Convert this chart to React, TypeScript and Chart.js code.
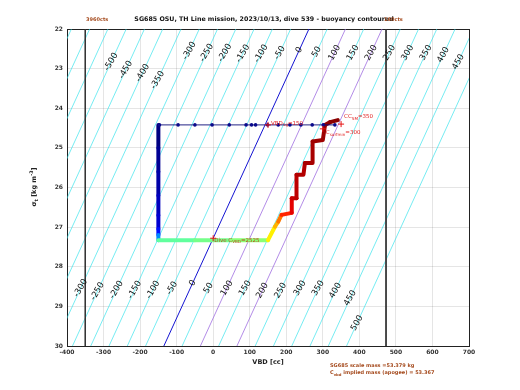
import React, { useEffect, useRef } from 'react';
import { Chart, registerables } from 'chart.js';
Chart.register(...registerables);

// ---------- data ----------
const xMin = -400;
const xMax = 700;
const yMin = 22;
const yMax = 30;

// buoyancy contour levels [g] and their VBD [cc] at sigma=22 (top) and sigma=30 (bottom)
const contourLevels = [-700, -650, -600, -550, -500, -450, -400, -350, -300, -250, -200, -150, -100, -50, 0, 50, 100, 150, 200, 250, 300, 350, 400, 450, 500];
const contourVbdTop = [-438, -388, -338, -288, -238, -188, -138, -88, -38, 12, 62, 112, 162, 212, 262, 312, 362, 412, 462, 512, 562, 612, 662, 712, 762];
const contourVbdBottom = [-835, -785, -735, -685, -635, -585, -535, -485, -435, -385, -335, -285, -235, -185, -135, -85, -35, 15, 65, 115, 165, 215, 265, 315, 365];

// contour labels: level and the sigma where the label sits
const labelLevels = [-500, -450, -400, -350, -300, -250, -200, -150, -100, -50, 0, 50, 100, 150, 200, 250, 300, 350, 400, 450,
  -300, -250, -200, -150, -100, -50, 0, 50, 100, 150, 200, 250, 300, 350, 400, 450, 500];
const labelSigmas = [22.83, 23.03, 23.11, 23.29, 22.55, 22.6, 22.6, 22.62, 22.62, 22.6, 22.53, 22.58, 22.6, 22.6, 22.6, 22.6, 22.6, 22.6, 22.65, 22.83,
  28.54, 28.62, 28.58, 28.58, 28.58, 28.54, 28.41, 28.54, 28.54, 28.54, 28.6, 28.6, 28.54, 28.54, 28.6, 28.79, 29.42];

// VBD limit lines
const vbdLimits = [-350, 473];

// surface VBD trace (navy, with dots) at sigma 24.42
const surfVbd = [-147, -96, -50, -3, 44, 90, 105, 116, 149, 178, 210, 240, 271, 301, 333];
const surfSigma = 24.42;

// dive trajectory (colored by normalized time)
const diveVbd = [-150, -150, -150, -150, -150, -150, -150, -150, -50, 50, 150, 169, 178, 187, 215, 215, 228, 228, 247, 251, 272, 272, 300, 306, 320, 341];
const diveSigma = [24.42, 25.0, 25.6, 26.2, 26.7, 27.05, 27.2, 27.33, 27.33, 27.33, 27.33, 26.99, 26.86, 26.69, 26.64, 26.27, 26.27, 25.68, 25.68, 25.38, 25.38, 24.84, 24.8, 24.42, 24.35, 24.3];
const diveTime = [0.0, 0.02, 0.04, 0.06, 0.08, 0.14, 0.26, 0.47, 0.49, 0.51, 0.64, 0.7, 0.76, 0.84, 0.9, 0.93, 0.94, 0.95, 0.95, 0.96, 0.96, 0.97, 0.97, 0.98, 0.99, 1.0];

// red markers
const markVbd = [150, 350, 300, 0];
const markSigma = [24.42, 24.4, 24.52, 27.28];

function jet(t: number): string {
  const c = (v: number) => Math.round(255 * Math.max(0, Math.min(1, v)));
  const r = c(1.5 - Math.abs(4 * t - 3));
  const g = c(1.5 - Math.abs(4 * t - 2));
  const b = c(1.5 - Math.abs(4 * t - 1));
  return `rgb(${r},${g},${b})`;
}

type Part = [string, 'n' | 'sub' | 'sup'];
function drawRich(ctx: CanvasRenderingContext2D, parts: Part[], x: number, y: number, size: number, color: string, weight = 'normal', family = 'DejaVu Sans') {
  ctx.save();
  ctx.fillStyle = color;
  ctx.textBaseline = 'middle';
  ctx.textAlign = 'left';
  let cx = x;
  for (const [t, k] of parts) {
    const s = k === 'n' ? size : size * 0.75;
    const dy = k === 'sub' ? size * 0.35 : k === 'sup' ? -size * 0.4 : 0;
    ctx.font = `${weight} ${s}px "${family}"`;
    ctx.fillText(t, cx, y + dy);
    cx += ctx.measureText(t).width;
  }
  ctx.restore();
  return cx - x;
}
function richWidth(ctx: CanvasRenderingContext2D, parts: Part[], size: number, weight = 'normal', family = 'DejaVu Sans') {
  ctx.save();
  let w = 0;
  for (const [t, k] of parts) {
    const s = k === 'n' ? size : size * 0.75;
    ctx.font = `${weight} ${s}px "${family}"`;
    w += ctx.measureText(t).width;
  }
  ctx.restore();
  return w;
}

const overlayPlugin = {
  id: 'overlay',
  afterDatasetsDraw(chart: any) {
    const ctx: CanvasRenderingContext2D = chart.ctx;
    const xs = chart.scales.x;
    const ys = chart.scales.y;
    const area = chart.chartArea;

    // contour labels
    ctx.save();
    ctx.beginPath();
    ctx.rect(area.left, area.top, area.right - area.left, area.bottom - area.top);
    ctx.clip();
    for (let i = 0; i < labelLevels.length; i++) {
      const li = contourLevels.indexOf(labelLevels[i]);
      const s = labelSigmas[i];
      const v = contourVbdTop[li] + (contourVbdBottom[li] - contourVbdTop[li]) * (s - yMin) / (yMax - yMin);
      const px = xs.getPixelForValue(v);
      const py = ys.getPixelForValue(s);
      ctx.save();
      ctx.translate(px, py);
      ctx.rotate((-60 * Math.PI) / 180);
      ctx.font = '8.5px "DejaVu Sans"';
      ctx.fillStyle = '#111';
      ctx.textAlign = 'center';
      ctx.textBaseline = 'middle';
      ctx.fillText(String(labelLevels[i]), 0, 0);
      ctx.restore();
    }
    ctx.restore();

    // red annotations
    const red = 'rgb(225,30,30)';
    drawRich(ctx, [['VBD', 'n'], ['1g', 'sub'], ['=150', 'n']], xs.getPixelForValue(150) + 3, ys.getPixelForValue(24.42) - 1.5, 5.5, red);
    drawRich(ctx, [['CC', 'n'], ['SM', 'sub'], ['=350', 'n']], xs.getPixelForValue(350) + 3, ys.getPixelForValue(24.22), 5.5, red);
    drawRich(ctx, [['C', 'n'], ['surfmin', 'sub'], ['=300', 'n']], xs.getPixelForValue(300) + 3, ys.getPixelForValue(24.62), 5.5, red);
    drawRich(ctx, [['Dive C', 'n'], ['VBD', 'sub'], ['=2525', 'n']], xs.getPixelForValue(0) + 1, ys.getPixelForValue(27.33), 5.5, 'rgb(190,70,30)');
  },
  afterDraw(chart: any) {
    const ctx: CanvasRenderingContext2D = chart.ctx;
    const brown = 'rgb(165,75,30)';
    // title
    ctx.save();
    ctx.font = 'bold 6.3px "DejaVu Sans"';
    ctx.fillStyle = '#111';
    ctx.textAlign = 'center';
    ctx.textBaseline = 'middle';
    ctx.fillText('SG685 OSU, TH Line mission, 2023/10/13, dive 539 - buoyancy contoured', 264, 19);
    ctx.font = 'bold 5px "DejaVu Sans"';
    ctx.fillStyle = brown;
    ctx.textAlign = 'left';
    ctx.fillText('3960cts', 86, 19.5);
    ctx.fillText('160cts', 384, 19.5);
    // x title
    ctx.font = 'bold 6.5px "DejaVu Sans"';
    ctx.fillStyle = '#222';
    ctx.textAlign = 'center';
    ctx.fillText('VBD [cc]', 268, 362);
    ctx.restore();

    // y title
    ctx.save();
    ctx.translate(34, 187);
    ctx.rotate(-Math.PI / 2);
    const yParts: Part[] = [['\u03c3', 'n'], ['t', 'sub'], [' [kg m', 'n'], ['-3', 'sup'], [']', 'n']];
    const w = richWidth(ctx, yParts, 6.5, 'bold');
    drawRich(ctx, yParts, -w / 2, 0, 6.5, '#222', 'bold');
    ctx.restore();

    // bottom notes
    drawRich(ctx, [['SG685 scale mass =53.379 kg', 'n']], 330, 366, 5, brown, 'bold');
    drawRich(ctx, [['C', 'n'], ['vbd', 'sub'], [' implied mass (apogee) = 53.367', 'n']], 330, 373, 5, brown, 'bold');
  },
};

export default function App() {
  const ref = useRef<HTMLCanvasElement | null>(null);
  useEffect(() => {
    if (!ref.current) return;
    const datasets: any[] = [];
    contourLevels.forEach((lv, i) => {
      const color = lv === 0 ? 'rgb(20,20,210)' : lv === 100 || lv === 200 ? 'rgb(160,110,225)' : 'rgba(40,225,235,0.8)';
      datasets.push({
        type: 'line',
        data: [{ x: contourVbdTop[i], y: yMin }, { x: contourVbdBottom[i], y: yMax }],
        borderColor: color,
        borderWidth: lv === 0 ? 1 : 0.8,
        pointRadius: 0,
        order: 10,
      });
    });
    vbdLimits.forEach((v) => {
      datasets.push({
        type: 'line',
        data: [{ x: v, y: yMin }, { x: v, y: yMax }],
        borderColor: '#333',
        borderWidth: 1,
        pointRadius: 0,
        order: 9,
      });
    });
    datasets.push({
      type: 'line',
      data: diveVbd.map((v, i) => ({ x: v, y: diveSigma[i] })),
      borderWidth: 4,
      borderColor: jet(0),
      borderCapStyle: 'round',
      borderJoinStyle: 'round',
      segment: { borderColor: (c: any) => jet(diveTime[c.p0DataIndex]) },
      pointRadius: 0,
      order: 3,
    });
    datasets.push({
      type: 'line',
      data: surfVbd.map((v) => ({ x: v, y: surfSigma })),
      borderColor: 'rgb(10,10,120)',
      backgroundColor: 'rgb(10,10,140)',
      borderWidth: 0.9,
      pointRadius: 1.8,
      pointBorderWidth: 0,
      order: 2,
    });
    datasets.push({
      type: 'scatter',
      data: markVbd.map((v, i) => ({ x: v, y: markSigma[i] })),
      pointStyle: 'cross',
      pointRadius: 3,
      borderColor: 'rgb(230,20,20)',
      borderWidth: 1,
      showLine: false,
      order: 1,
    });

    const chart = new Chart(ref.current, {
      type: 'line',
      data: { datasets },
      options: {
        responsive: false,
        animation: false,
        devicePixelRatio: 1,
        layout: { padding: { left: 0, top: 29, right: 51, bottom: 0 } },
        plugins: { legend: { display: false }, tooltip: { enabled: false }, title: { display: false } },
        scales: {
          x: {
            type: 'linear',
            min: xMin,
            max: xMax,
            afterFit: (s: any) => { s.height = 44; },
            ticks: { stepSize: 100, font: { size: 6, weight: 'bold', family: 'DejaVu Sans' }, color: '#333', padding: 3, maxRotation: 0 },
            grid: { color: 'rgba(0,0,0,0.1)', drawTicks: false },
            border: { color: '#222', width: 1 },
          },
          y: {
            type: 'linear',
            min: yMin,
            max: yMax,
            reverse: true,
            afterFit: (s: any) => { s.width = 67; },
            ticks: { stepSize: 1, font: { size: 6, weight: 'bold', family: 'DejaVu Sans' }, color: '#333', padding: 4 },
            grid: { color: 'rgba(0,0,0,0.1)', drawTicks: false },
            border: { color: '#222', width: 1 },
          },
          x2: {
            type: 'linear', position: 'top', min: xMin, max: xMax, display: true,
            afterFit: (s: any) => { s.height = 0; },
            ticks: { display: false }, grid: { display: false }, border: { color: '#222', width: 1 },
          },
          y2: {
            type: 'linear', position: 'right', min: yMin, max: yMax, display: true,
            afterFit: (s: any) => { s.width = 0; },
            ticks: { display: false }, grid: { display: false }, border: { color: '#222', width: 1 },
          },
        },
      } as any,
      plugins: [overlayPlugin],
    });
    return () => chart.destroy();
  }, []);
  return (
    <div style={{ position: 'absolute', left: 0, top: 0, width: 520, height: 390, background: '#fff' }}>
      <canvas ref={ref} width={520} height={390} />
    </div>
  );
}
